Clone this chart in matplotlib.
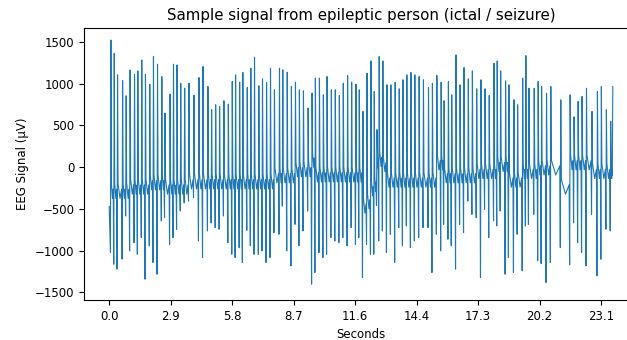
import numpy as np
import matplotlib
matplotlib.use("Agg")
import matplotlib.pyplot as plt

# spike positions (sample index), spike peaks / troughs and the level between spikes
spike_idx = [14, 41, 68, 109, 138, 170, 206, 233, 265, 295,
             330, 360, 393, 428, 454, 495, 523, 552, 582, 614,
             649, 690, 730, 763, 803, 833, 866, 898, 933, 969,
             1001, 1028, 1061, 1087, 1123, 1152, 1182, 1217, 1247, 1280,
             1312, 1344, 1385, 1412, 1448, 1482, 1515, 1547, 1580, 1618,
             1650, 1677, 1710, 1742, 1772, 1807, 1839, 1872, 1904, 1939,
             1972, 2007, 2034, 2064, 2097, 2129, 2156, 2178, 2196, 2226,
             2259, 2291, 2326, 2359, 2389, 2421, 2454, 2486, 2521, 2556,
             2597, 2629, 2665, 2700, 2724, 2759, 2786, 2821, 2854, 2886,
             2921, 2954, 2989, 3024, 3057, 3091, 3130, 3156, 3184, 3224,
             3251, 3292, 3322, 3363, 3389, 3414, 3457, 3489, 3517, 3557,
             3592, 3673, 3749, 3781, 3814, 3846, 3882, 3927, 3971, 4003,
             4044, 4079, 4096]

spike_hi = [1523, 1364, 1106, 1037, 855, 1165, 1113, 1154, 1284, 1113,
            994, 1324, 1233, 1085, 648, 875, 1233, 1224, 1006, 946,
            1006, 863, 1074, 1206, 967, 689, 748, 728, 796, 756,
            1026, 1106, 1019, 1134, 954, 1186, 1317, 975, 1058, 1015,
            1186, 927, 1186, 1166, 1138, 967, 1019, 927, 915, 709,
            887, 1067, 1067, 867, 1086, 927, 927, 859, 1006, 1098,
            1019, 995, 927, 668, 1126, 1273, 907, 450, 1325, 1273,
            987, 987, 1019, 939, 1047, 1106, 1134, 1106, 1086, 1047,
            954, 1006, 1098, 1019, 796, 1026, 867, 1345, 987, 1193,
            1058, 1154, 939, 1047, 939, 859, 1245, 1273, 1154, 1034,
            987, 808, 748, 1067, 1336, 947, 946, 1026, 966, 887,
            966, 807, 867, 604, 787, 847, 946, 668, 907, 966,
            688, 549, 966]

spike_lo = [-1022, -1161, -1220, -1101, -584, -1001, -903, -1042, -843, -1340,
            -942, -1141, -1281, -643, -604, -927, -843, -743, -525, -426,
            -405, -365, -883, -1081, -763, -667, -723, -743, -584, -903,
            -1042, -1081, -962, -1141, -756, -942, -1042, -1042, -1001, -1141,
            -1081, -784, -803, -465, -1001, -1181, -684, -942, -763, -525,
            -1400, -1261, -1022, -1081, -1042, -843, -883, -903, -843, -942,
            -723, -923, -843, -1320, -923, -1042, -1042, -460, -883, -763,
            -1022, -803, -1141, -723, -942, -704, -962, -883, -843, -723,
            -723, -1261, -803, -1001, -684, -862, -942, -1220, -684, -784,
            -405, -565, -604, -1320, -504, -843, -643, -704, -525, -1281,
            -1081, -1261, -803, -1240, -704, -684, -564, -1121, -1153, -1380,
            -1141, -962, -1168, -667, -903, -1022, -1181, -564, -1300, -1102,
            -743, -763, -97]

baseline = [-283, -283, -283, -283, -283, -232, -232, -232, -232, -232,
            -180, -180, -180, -180, -232, -232, -232, -232, -232, -232,
            -169, -169, -169, -169, -169, -169, -169, -169, -169, -169,
            -169, -169, -169, -169, -169, -169, -169, -169, -169, -169,
            -169, -97, -97, -97, -97, -97, -24, -24, -24, -24,
            90, -86, -86, -86, -86, -86, -86, -86, -86, -86,
            -86, -86, -86, -460, -408, -252, -200, 80, 100, 38,
            -149, -149, -149, -149, -149, -149, -149, -149, -149, -149,
            -149, -149, 59, 59, -97, -97, -97, -97, -97, -97,
            -97, -97, -45, -45, -45, -45, -45, 38, 38, 38,
            -149, -149, -149, -45, -45, -45, -45, -3, -3, -3,
            -3, -232, 59, 59, 59, 59, 59, -45, -45, -45,
            -45, -45, -45]

first_value = -470

tick_pos = [0, 500, 1000, 1500, 2000, 2500, 3000, 3500, 4000]
tick_labels = ['0.0', '2.9', '5.8', '8.7', '11.6', '14.4', '17.3', '20.2', '23.1']

# assemble the trace: trough -> peak -> slow wave around the level -> next trough
xs, ys = [0], [first_value]
for i, p in enumerate(spike_idx):
    xs += [p - 4, p]
    ys += [spike_lo[i], spike_hi[i]]
    if i < len(spike_idx) - 1:
        nxt = spike_idx[i + 1]
        b = baseline[i]
        mid = (p + nxt) // 2
        xs += [p + 4, mid, nxt - 8]
        ys += [b + 90, b - 90, b + 20]

fig = plt.figure(figsize=(6.27, 3.4), dpi=100)
ax = fig.add_axes([0.134, 0.1176, 0.8835, 0.80])
ax.plot(xs, ys, color='#1f77b4', linewidth=0.8)
ax.set_ylim(-1590, 1667)
ax.set_xticks(tick_pos)
ax.set_xticklabels(tick_labels)
ax.tick_params(labelsize=8.5)
ax.set_xlabel('Seconds', fontsize=8.5)
ax.set_ylabel('EEG Signal (μV)', fontsize=8.5)
ax.set_title('Sample signal from epileptic person (ictal / seizure)', fontsize=10.8)

fig.savefig('out.png', dpi=100)
